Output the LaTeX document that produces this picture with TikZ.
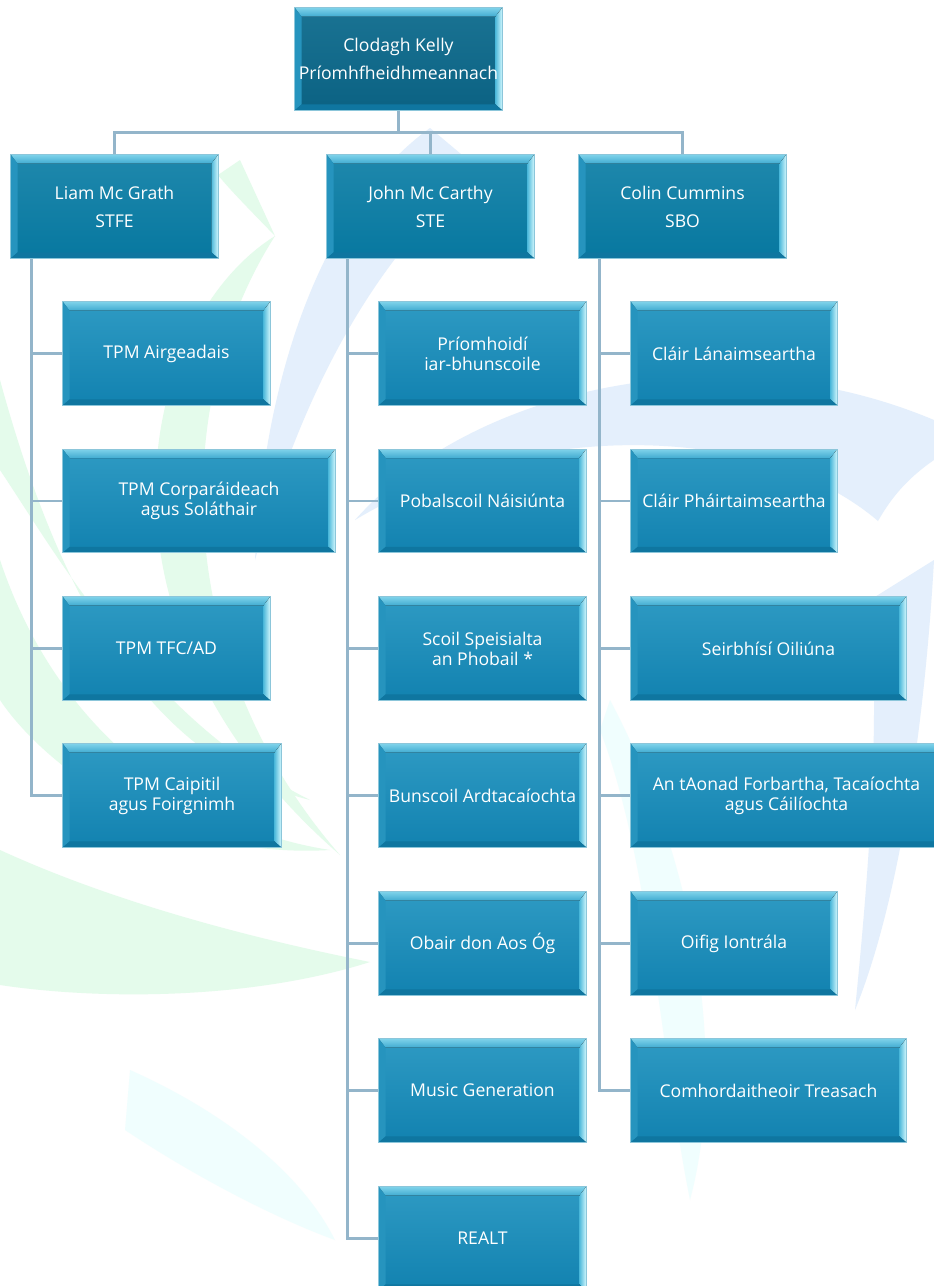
\documentclass[tikz,border=0pt]{standalone}
\usepackage{fontspec}
\setmainfont{Open Sans}
\usetikzlibrary{calc}
\definecolor{conncol}{HTML}{93B5CA}
\definecolor{bordercol}{HTML}{8CC6DA}
\definecolor{topA}{HTML}{1A7393}
\definecolor{topB}{HTML}{0B6283}
\definecolor{mgrA}{HTML}{1F88AC}
\definecolor{mgrB}{HTML}{0778A0}
\definecolor{kidA}{HTML}{2E9AC3}
\definecolor{kidB}{HTML}{1282B0}
\definecolor{bvTopA}{HTML}{7ED2EA}
\definecolor{bvTopB}{HTML}{3FAAD0}
\definecolor{bvRA}{HTML}{D2F7FD}
\definecolor{bvRB}{HTML}{4DB8DA}
\definecolor{bvL}{HTML}{2694BE}
\definecolor{bvBot}{HTML}{0F76A0}
\definecolor{wmgreen}{HTML}{E4FBEB}
\definecolor{wmblue}{HTML}{E4EFFC}
\definecolor{wmcyan}{HTML}{F0FEFE}
\pgfdeclarelayer{wm}
\pgfdeclarelayer{lines}
\pgfsetlayers{wm,lines,main}
\tikzset{
  topbox/.style={rectangle, inner sep=0pt, top color=topA, bottom color=topB},
  mgrbox/.style={rectangle, inner sep=0pt, top color=mgrA, bottom color=mgrB},
  kidbox/.style={rectangle, inner sep=0pt, top color=kidA, bottom color=kidB},
  bigtxt/.style={text=white, align=center, inner sep=0pt, font=\fontsize{13.2}{21}\selectfont},
  smalltxt/.style={text=white, align=center, inner sep=0pt, font=\fontsize{13.2}{15}\selectfont},
  conn/.style={draw=conncol, line width=2.2pt},
}
\newcommand\bevel[1]{%
  \fill[top color=bvTopA, bottom color=bvTopB] (#1.north west) -- (#1.north east) -- ($(#1.north east)+(-7,9)$) -- ($(#1.north west)+(7,9)$) -- cycle;
  \fill[left color=bvRB, right color=bvRA] (#1.north east) -- (#1.south east) -- ($(#1.south east)+(-7,-6)$) -- ($(#1.north east)+(-7,9)$) -- cycle;
  \fill[bvL] (#1.north west) -- ($(#1.north west)+(7,9)$) -- ($(#1.south west)+(7,-6)$) -- (#1.south west) -- cycle;
  \fill[bvBot] (#1.south west) -- ($(#1.south west)+(7,-6)$) -- ($(#1.south east)+(-7,-6)$) -- (#1.south east) -- cycle;
  \draw[bordercol, line width=0.6pt] (#1.north west) rectangle (#1.south east);
}
% name, cx, cy, w, h, box style, text style, text
\newcommand\obox[8]{%
  \node[#6, minimum width=#4*0.75pt, minimum height=#5*0.75pt] (#1) at (#2,#3) {};
  \bevel{#1}
  \node[#7] (#1t) at (#1) {#8};
}
\begin{document}
\begin{tikzpicture}[x=0.75pt,y=-0.75pt]
\useasboundingbox (0,0) rectangle (934,1286);

% watermark
\begin{pgfonlayer}{wm}
\fill[white] (0,0) rectangle (934,1286);
\fill[wmgreen] (275,236) .. controls (140,320) and (70,620) .. (340,855) .. controls (170,660) and (170,400) .. (275,236) -- cycle;
\fill[wmgreen] (240,160) -- (275,236) .. controls (250,210) and (230,190) .. (218,175) -- cycle;
\fill[wmgreen] (0,380) .. controls (60,600) and (150,760) .. (310,800) .. controls (150,720) and (60,560) .. (0,470) -- cycle;
\fill[wmgreen] (0,560) .. controls (60,740) and (200,830) .. (330,850) .. controls (160,860) and (40,760) .. (0,700) -- cycle;
\fill[wmgreen] (0,850) .. controls (120,905) and (260,940) .. (370,962) .. controls (250,1000) and (100,1000) .. (0,985) -- cycle;
\fill[wmblue] (430,128) .. controls (330,200) and (265,360) .. (255,560) .. controls (300,400) and (370,260) .. (480,170) -- cycle;
\fill[wmblue] (355,520) .. controls (470,390) and (720,330) .. (934,420) -- (934,460) .. controls (905,480) and (890,500) .. (878,521) .. controls (760,420) and (520,420) .. (355,520) -- cycle;
\fill[wmblue] (934,560) .. controls (925,720) and (900,900) .. (855,1010) .. controls (870,860) and (880,720) .. (870,600) -- cycle;
\fill[wmcyan] (610,700) .. controls (690,850) and (730,1050) .. (690,1200) .. controls (660,1050) and (650,860) .. (600,730) -- cycle;
\fill[wmcyan] (130,1070) -- (125,1130) .. controls (200,1180) and (280,1220) .. (335,1240) .. controls (300,1170) and (220,1110) .. (130,1070) -- cycle;
\end{pgfonlayer}

% boxes
\obox{top}{398.5}{59}{207}{102}{topbox}{bigtxt}{Clodagh Kelly\\Príomhfheidhmeannach}
\obox{liam}{114.5}{206.5}{207}{103}{mgrbox}{bigtxt}{Liam Mc Grath\\STFE}
\obox{john}{430.5}{206.5}{207}{103}{mgrbox}{bigtxt}{John Mc Carthy\\STE}
\obox{colin}{682.5}{206.5}{207}{103}{mgrbox}{bigtxt}{Colin Cummins\\SBO}

\obox{a1}{166.5}{353.5}{207}{103}{kidbox}{smalltxt}{TPM Airgeadais}
\obox{a2}{199}{501}{272}{103}{kidbox}{smalltxt}{TPM Corparáideach\\agus Soláthair}
\obox{a3}{166.5}{648.5}{207}{103}{kidbox}{smalltxt}{TPM TFC/AD}
\obox{a4}{172}{795.5}{218}{103}{kidbox}{smalltxt}{TPM Caipitil\\agus Foirgnimh}

\obox{b1}{482.5}{353.5}{207}{103}{kidbox}{smalltxt}{Príomhoidí\\iar-bhunscoile}
\obox{b2}{482.5}{501}{207}{103}{kidbox}{smalltxt}{Pobalscoil Náisiúnta}
\obox{b3}{482.5}{648.5}{207}{103}{kidbox}{smalltxt}{Scoil Speisialta\\an Phobail *}
\obox{b4}{482.5}{795.5}{207}{103}{kidbox}{smalltxt}{Bunscoil Ardtacaíochta}
\obox{b5}{482.5}{943.5}{207}{103}{kidbox}{smalltxt}{Obair don Aos Óg}
\obox{b6}{482.5}{1090.5}{207}{103}{kidbox}{smalltxt}{Music Generation}
\obox{b7}{482.5}{1238.5}{207}{103}{kidbox}{smalltxt}{REALT}

\obox{c1}{734}{353.5}{206}{103}{kidbox}{smalltxt}{Cláir Lánaimseartha}
\obox{c2}{734}{501}{206}{103}{kidbox}{smalltxt}{Cláir Pháirtaimseartha}
\obox{c3}{768.5}{648.5}{275}{103}{kidbox}{smalltxt}{Seirbhísí Oiliúna}
\obox{c4}{786.5}{795.5}{311}{103}{kidbox}{smalltxt}{An tAonad Forbartha, Tacaíochta\\agus Cáilíochta}
\obox{c5}{734}{943.5}{206}{103}{kidbox}{smalltxt}{Oifig Iontrála}
\obox{c6}{768.5}{1090.5}{275}{103}{kidbox}{smalltxt}{Comhordaitheoir Treasach}

% connectors
\begin{pgfonlayer}{lines}
\coordinate (jn) at ($(top.south)+(0,22)$);
\draw[conn] (top.south) -- (jn);
\draw[conn] (liam.north) |- (jn);
\draw[conn] (john.north) |- (jn);
\draw[conn] (colin.north) |- (jn);
\coordinate (lb) at ($(liam.south west)+(21,0)$);
\coordinate (jb) at ($(john.south west)+(21,0)$);
\coordinate (cb) at ($(colin.south west)+(21,0)$);
\foreach \k in {a1,a2,a3,a4}{\draw[conn] (\k.west) -| (lb);}
\foreach \k in {b1,b2,b3,b4,b5,b6,b7}{\draw[conn] (\k.west) -| (jb);}
\foreach \k in {c1,c2,c3,c4,c5,c6}{\draw[conn] (\k.west) -| (cb);}
\end{pgfonlayer}
\end{tikzpicture}
\end{document}
